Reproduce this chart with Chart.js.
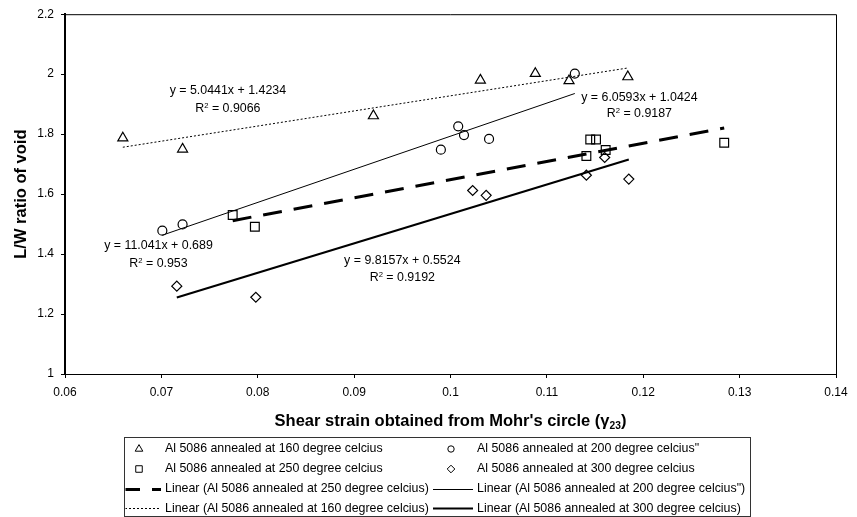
<!DOCTYPE html>
<html>
<head>
<meta charset="utf-8">
<script src="https://cdn.jsdelivr.net/npm/chart.js@4/dist/chart.umd.min.js"></script>
<style>
  html, body { margin: 0; padding: 0; background: #fff; }
  canvas { display: block; }
</style>
</head>
<body>
<canvas id="chart" width="857" height="517"></canvas>
<script>
// shear strain (x) and L/W ratio of void (y) for each annealing temperature
const x160 = [0.0660, 0.0722, 0.0920, 0.1031, 0.1088, 0.1123, 0.1184];
const y160 = [1.787, 1.750, 1.861, 1.980, 2.002, 1.978, 1.991];
const x200 = [0.0701, 0.0722, 0.0990, 0.1008, 0.1014, 0.1040, 0.1129];
const y200 = [1.478, 1.499, 1.748, 1.826, 1.797, 1.784, 2.002];
const x250 = [0.0774, 0.0797, 0.1145, 0.1151, 0.1141, 0.1161, 0.1284];
const y250 = [1.530, 1.491, 1.782, 1.782, 1.727, 1.747, 1.771];
const x300 = [0.0716, 0.0798, 0.1023, 0.1037, 0.1141, 0.1160, 0.1185];
const y300 = [1.293, 1.256, 1.612, 1.596, 1.663, 1.722, 1.650];

// trendlines as printed on the chart: 160, 200, 250, 300
const slopes = [5.0441, 11.041, 6.0593, 9.8157];
const intercepts = [1.4234, 0.689, 1.0424, 0.5524];
const rSquared = ['0.9066', '0.953', '0.9187', '0.9192'];

const xTicks = [0.06, 0.07, 0.08, 0.09, 0.1, 0.11, 0.12, 0.13, 0.14];
const yTicks = [1, 1.2, 1.4, 1.6, 1.8, 2, 2.2];

const FONT = '"Liberation Sans", Arial, sans-serif';

function pts(xs, ys) {
  return xs.map((x, i) => ({ x: x, y: ys[i] }));
}
function trend(i, xs) {
  const lo = Math.min(...xs), hi = Math.max(...xs);
  return [
    { x: lo, y: slopes[i] * lo + intercepts[i] },
    { x: hi, y: slopes[i] * hi + intercepts[i] }
  ];
}

function markers(label, data, style, r) {
  return {
    label: label, data: data, showLine: false,
    pointStyle: style, pointRadius: r, pointHoverRadius: r,
    borderColor: '#000', backgroundColor: 'rgba(0,0,0,0)', pointBorderWidth: 1.2
  };
}
function line(label, data, width, dash) {
  return {
    label: label, data: data, showLine: true, pointRadius: 0, pointHoverRadius: 0,
    borderColor: '#000', backgroundColor: '#000', borderWidth: width, borderDash: dash
  };
}

const datasets = [
  markers('Al 5086 annealed at 160 degree celcius', pts(x160, y160), 'triangle', 5.8),
  markers('Al 5086 annealed at 200 degree celcius"', pts(x200, y200), 'circle', 4.5),
  markers('Al 5086 annealed at 250 degree celcius', pts(x250, y250), 'rect', 6.2),
  markers('Al 5086 annealed at 300 degree celcius', pts(x300, y300), 'rectRot', 5),
  line('Linear (Al 5086 annealed at 160 degree celcius)', trend(0, x160), 1, [2, 2]),
  line('Linear (Al 5086 annealed at 200 degree celcius")', trend(1, x200), 1, []),
  line('Linear (Al 5086 annealed at 250 degree celcius)', trend(2, x250), 3, [19, 12]),
  line('Linear (Al 5086 annealed at 300 degree celcius)', trend(3, x300), 2.2, [])
];

// where each equation label sits, in data units: x, y of equation, y of R²
const labelAt = [
  [0.0769, 1.948, 1.887],
  [0.0697, 1.430, 1.370],
  [0.1196, 1.924, 1.870],
  [0.0950, 1.380, 1.323]
];

// legend layout: [dataset index, column, row]
const legendOrder = [[0, 0, 0], [1, 1, 0], [2, 0, 1], [3, 1, 1], [6, 0, 2], [5, 1, 2], [4, 0, 3], [7, 1, 3]];

// draws text with sup/sub parts centred on cx
function richText(ctx, parts, cx, cy, size, bold) {
  const w = bold ? 'bold ' : '';
  let total = 0;
  parts.forEach(p => {
    ctx.font = w + (p.s ? size * 0.62 : size) + 'px ' + FONT;
    p.w = ctx.measureText(p.t).width;
    total += p.w;
  });
  let x = cx - total / 2;
  ctx.textAlign = 'left';
  ctx.textBaseline = 'alphabetic';
  parts.forEach(p => {
    ctx.font = w + (p.s ? size * 0.62 : size) + 'px ' + FONT;
    const dy = p.s === 1 ? -size * 0.38 : p.s === -1 ? size * 0.2 : 0;
    ctx.fillText(p.t, x, cy + size * 0.35 + dy);
    x += p.w;
  });
}

const decorations = {
  id: 'decorations',
  afterDraw(chart) {
    const ctx = chart.ctx, a = chart.chartArea;
    const xs = chart.scales.x, ys = chart.scales.y;
    ctx.save();
    ctx.fillStyle = '#000';

    // top and right frame of plot area
    ctx.strokeStyle = '#000';
    ctx.lineWidth = 1;
    ctx.beginPath();
    ctx.moveTo(a.left, a.top + 0.5);
    ctx.lineTo(a.right + 0.5, a.top + 0.5);
    ctx.lineTo(a.right + 0.5, a.bottom);
    ctx.stroke();

    // trendline equations
    labelAt.forEach((p, i) => {
      const cx = xs.getPixelForValue(p[0]);
      richText(ctx, [{ t: 'y = ' + slopes[i] + 'x + ' + intercepts[i] }], cx, ys.getPixelForValue(p[1]), 12.4);
      richText(ctx, [{ t: 'R' }, { t: '2', s: 1 }, { t: ' = ' + rSquared[i] }], cx, ys.getPixelForValue(p[2]), 12.4);
    });

    // axis titles
    richText(ctx, [{ t: "Shear strain obtained from Mohr's circle (" }, { t: 'γ' }, { t: '23', s: -1 }, { t: ')' }],
      (a.left + a.right) / 2, 420, 16.5, true);
    ctx.save();
    ctx.translate(20, (a.top + a.bottom) / 2);
    ctx.rotate(-Math.PI / 2);
    richText(ctx, [{ t: 'L/W ratio of void' }], 0, 0, 16.5, true);
    ctx.restore();

    // legend box
    const box = { left: 124.5, top: 437.5, right: 750.5, bottom: 516.5 };
    ctx.strokeStyle = '#333';
    ctx.lineWidth = 1;
    ctx.strokeRect(box.left, box.top, box.right - box.left, box.bottom - box.top);
    ctx.save();
    ctx.beginPath();
    ctx.rect(box.left + 1, box.top + 1, box.right - box.left - 2, box.bottom - box.top - 2);
    ctx.clip();
    const textX = [165, 477];
    const rowY = [449, 469, 489, 508.5];
    const small = { triangle: 4.4, circle: 3.2, rect: 4.6, rectRot: 3.8 };
    legendOrder.forEach(([di, col, row]) => {
      const ds = chart.data.datasets[di];
      const tx = textX[col], y = rowY[row];
      ctx.strokeStyle = '#000';
      if (ds.showLine) {
        const ly = ds.borderWidth % 2 === 1 ? Math.floor(y) + 0.5 : y;
        ctx.lineWidth = ds.borderWidth;
        ctx.setLineDash(ds.borderDash || []);
        ctx.beginPath();
        ctx.moveTo(tx - 44, ly);
        ctx.lineTo(tx - 4, ly);
        ctx.stroke();
        ctx.setLineDash([]);
      } else {
        ctx.fillStyle = 'rgba(0,0,0,0)';
        Chart.helpers.drawPoint(ctx, { pointStyle: ds.pointStyle, radius: small[ds.pointStyle], borderWidth: 1, rotation: 0 }, tx - 26, y);
      }
      ctx.fillStyle = '#000';
      ctx.font = '12.4px ' + FONT;
      ctx.textAlign = 'left';
      ctx.textBaseline = 'middle';
      ctx.fillText(ds.label, tx, y);
    });
    ctx.restore();
    ctx.restore();
  }
};

new Chart(document.getElementById('chart'), {
  type: 'scatter',
  data: { datasets: datasets },
  options: {
    responsive: false,
    animation: false,
    devicePixelRatio: 1,
    layout: { padding: { top: 14, right: 21, left: 0, bottom: 0 } },
    plugins: { legend: { display: false }, tooltip: { enabled: false } },
    scales: {
      x: {
        type: 'linear', min: 0.06, max: 0.14,
        afterBuildTicks: s => { s.ticks = xTicks.map(v => ({ value: v })); },
        afterFit: s => { s.height = 143; },
        grid: { drawOnChartArea: false, drawTicks: true, tickLength: 4, color: '#000' },
        border: { color: '#000', width: 1 },
        ticks: {
          color: '#000', padding: 7, maxRotation: 0, autoSkip: false,
          font: { family: FONT, size: 12 },
          callback: v => String(Number(v.toFixed(2)))
        }
      },
      y: {
        type: 'linear', min: 1, max: 2.2,
        afterBuildTicks: s => { s.ticks = yTicks.map(v => ({ value: v })); },
        afterFit: s => { s.width = 65; },
        grid: { drawOnChartArea: false, drawTicks: true, tickLength: 4, color: '#000' },
        border: { color: '#000', width: 2 },
        ticks: {
          color: '#000', padding: 7, autoSkip: false,
          font: { family: FONT, size: 12 },
          callback: v => String(Number(v.toFixed(1)))
        }
      }
    }
  },
  plugins: [decorations]
});
</script>
</body>
</html>
